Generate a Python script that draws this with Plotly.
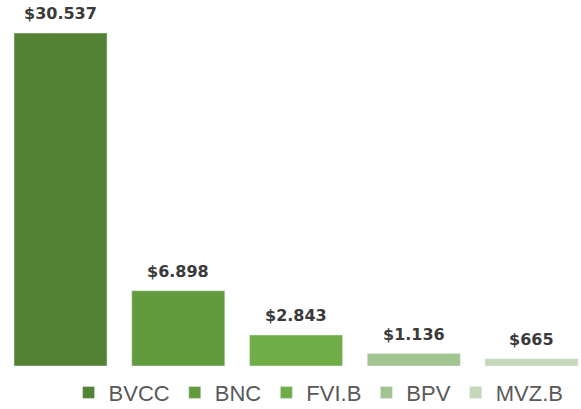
import plotly.graph_objects as go

categories = ["BVCC", "BNC", "FVI.B", "BPV", "MVZ.B"]
values = [30537, 6898, 2843, 1136, 665]
labels = ["$30.537", "$6.898", "$2.843", "$1.136", "$665"]
colors = ["#548235", "#629A3E", "#70AD47", "#A1C490", "#C5D9B9"]

fig = go.Figure()
for i, (c, v, col) in enumerate(zip(categories, values, colors)):
    fig.add_trace(go.Bar(x=[i], y=[v], name=c, marker_color=col, width=0.79,
                         hoverinfo="skip"))
    fig.add_annotation(x=i, y=v, text=labels[i], showarrow=False, yanchor="bottom",
                       yshift=8, xref="x", yref="y",
                       font=dict(family="DejaVu Sans", size=16, color="#3a3a3a", weight="bold"))

fig.update_layout(
    width=581, height=409,
    margin=dict(l=0, r=0, t=0, b=43, autoexpand=False),
    barmode="overlay",
    plot_bgcolor="white", paper_bgcolor="white",
    xaxis=dict(range=[-0.514, 4.42], visible=False),
    yaxis=dict(range=[0, 33563], visible=False),
    showlegend=True,
    legend=dict(orientation="h", x=0.118, xanchor="left",
                yref="container", y=0.04, yanchor="middle",
                font=dict(family="Liberation Sans", size=22, color="#595959"),
                itemwidth=30, traceorder="normal"),
)
fig.write_html("out.html")
